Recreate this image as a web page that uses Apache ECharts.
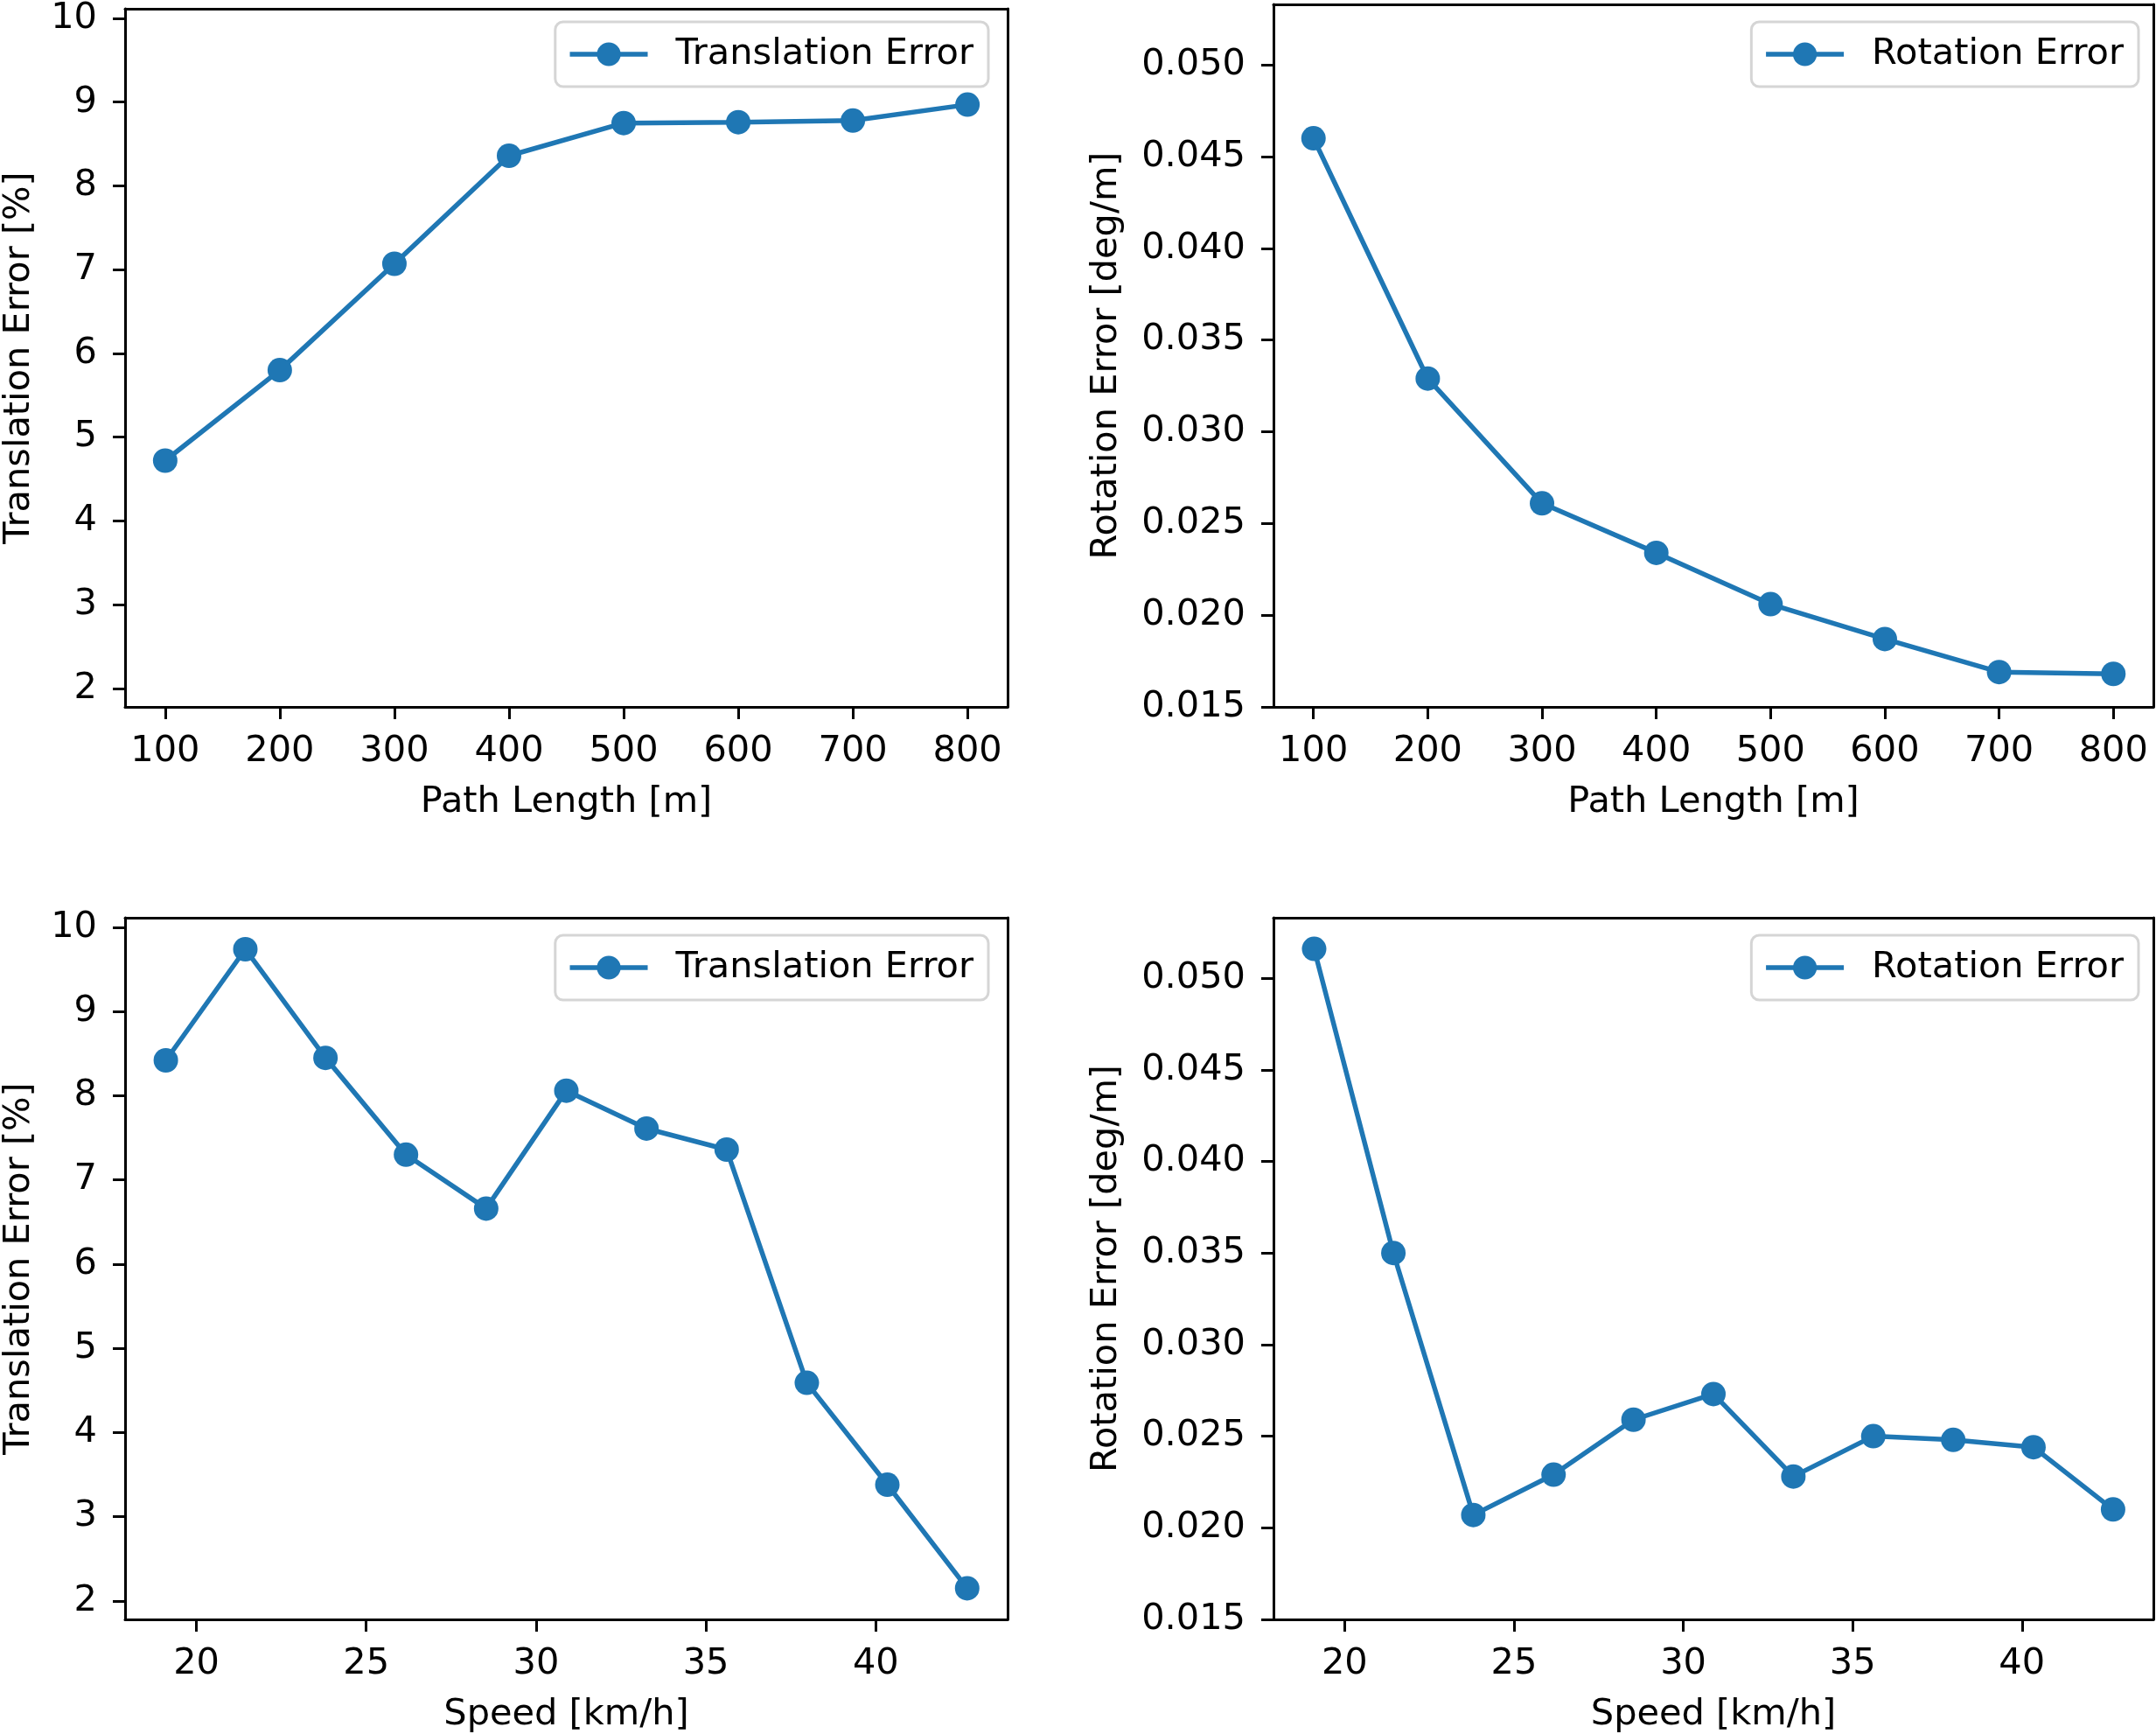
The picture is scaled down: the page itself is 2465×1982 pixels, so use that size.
<!DOCTYPE html>
<html>
<head>
<meta charset="utf-8">
<script src="https://cdn.jsdelivr.net/npm/echarts@6/dist/echarts.min.js"></script>
<style>
html,body{margin:0;padding:0;background:#fff;}
#chart{width:2465px;height:1982px;}
</style>
</head>
<body>
<div id="chart"></div>
<script>
// ---- data ----
const pathLength = [100, 200, 300, 400, 500, 600, 700, 800];
const transByPath = [4.72, 5.80, 7.07, 8.36, 8.75, 8.76, 8.78, 8.97];
const rotByPath = [0.0460, 0.0329, 0.0261, 0.0234, 0.0206, 0.0187, 0.0169, 0.0168];
const speed = [19.10, 21.44, 23.80, 26.17, 28.53, 30.89, 33.25, 35.61, 37.97, 40.34, 42.69];
const transBySpeed = [8.42, 9.74, 8.45, 7.30, 6.66, 8.06, 7.61, 7.36, 4.59, 3.38, 2.15];
const rotBySpeed = [0.0516, 0.0350, 0.0207, 0.0229, 0.0259, 0.0273, 0.0228, 0.0250, 0.0248, 0.0244, 0.0210];
const pathTicks = [100, 200, 300, 400, 500, 600, 700, 800];
const speedTicks = [20, 25, 30, 35, 40];
const transTicks = [2, 3, 4, 5, 6, 7, 8, 9, 10];
const rotTicks = [0.015, 0.020, 0.025, 0.030, 0.035, 0.040, 0.045, 0.050];

const BLUE = '#1f77b4';
const FONT = 'DejaVu Sans';
const FS = 41.5;

function pairs(xs, ys) { return xs.map((x, i) => [x, ys[i]]); }

function xAxis(gi, min, max, ticks, name) {
  return {
    type: 'value', gridIndex: gi, min: min, max: max,
    name: name, nameLocation: 'middle', nameGap: 88,
    nameTextStyle: {color: '#000', fontFamily: FONT, fontSize: FS},
    axisLine: {show: true, onZero: false, lineStyle: {color: '#000', width: 3}},
    axisTick: {show: true, inside: false, length: 14, customValues: ticks, lineStyle: {color: '#000', width: 3}},
    axisLabel: {show: true, customValues: ticks, margin: 30, color: '#000', fontFamily: FONT, fontSize: FS},
    splitLine: {show: false}
  };
}
function yAxis(gi, min, max, ticks, name, gap, fmt) {
  return {
    type: 'value', gridIndex: gi, min: min, max: max,
    name: name, nameLocation: 'middle', nameGap: gap, nameRotate: 90,
    nameTextStyle: {color: '#000', fontFamily: FONT, fontSize: FS},
    axisLine: {show: true, onZero: false, lineStyle: {color: '#000', width: 3}},
    axisTick: {show: true, inside: false, length: 14, customValues: ticks, lineStyle: {color: '#000', width: 3}},
    axisLabel: {show: true, customValues: ticks, margin: 32, color: '#000', fontFamily: FONT, fontSize: FS,
      formatter: fmt},
    splitLine: {show: false}
  };
}
// top/right spine frames via second axes
function frameX(gi, min, max) {
  return {type: 'value', gridIndex: gi, position: 'top', min: min, max: max,
    axisLine: {show: true, onZero: false, lineStyle: {color: '#000', width: 3}},
    axisTick: {show: false}, axisLabel: {show: false}, splitLine: {show: false}};
}
function frameY(gi, min, max) {
  return {type: 'value', gridIndex: gi, position: 'right', min: min, max: max,
    axisLine: {show: true, onZero: false, lineStyle: {color: '#000', width: 3}},
    axisTick: {show: false}, axisLabel: {show: false}, splitLine: {show: false}};
}
function series(name, xi, yi, data) {
  return {
    type: 'line', name: name, xAxisIndex: xi, yAxisIndex: yi, data: data,
    symbol: 'circle', symbolSize: 28, showSymbol: true,
    lineStyle: {color: BLUE, width: 5.5}, itemStyle: {color: BLUE},
    animation: false, z: 3
  };
}
function legend(name, top, right) {
  return {
    data: [name], top: top, right: right, orient: 'horizontal',
    itemWidth: 89, itemHeight: 34, itemGap: 0,
    padding: [16, 17, 16, 14],
    backgroundColor: 'rgba(255,255,255,0.8)', borderColor: '#d5d5d5', borderWidth: 3, borderRadius: 9,
    lineStyle: {width: 5.5, color: BLUE},
    textStyle: {color: '#000', fontFamily: FONT, fontSize: FS, padding: [0, 0, 0, 27]},
    selectedMode: false
  };
}

const tFmt = v => String(Math.round(v));
const rFmt = v => v.toFixed(3);

const T_MIN = 1.78, T_MAX = 10.114;
const R_MIN = 0.015, R_MAX = 0.0533;
const P_MIN = 65, P_MAX = 835;
const S_MIN = 17.90, S_MAX = 43.88;

const option = {
  backgroundColor: '#fff',
  animation: false,
  grid: [
    {left: 141, top: 5, width: 1011, height: 803},
    {left: 1456, top: 5, width: 1006, height: 803},
    {left: 141, top: 1049, width: 1011, height: 803},
    {left: 1456, top: 1049, width: 1006, height: 803}
  ],
  xAxis: [
    xAxis(0, P_MIN, P_MAX, pathTicks, 'Path Length [m]'),
    xAxis(1, P_MIN, P_MAX, pathTicks, 'Path Length [m]'),
    xAxis(2, S_MIN, S_MAX, speedTicks, 'Speed [km/h]'),
    xAxis(3, S_MIN, S_MAX, speedTicks, 'Speed [km/h]'),
    frameX(0, P_MIN, P_MAX), frameX(1, P_MIN, P_MAX), frameX(2, S_MIN, S_MAX), frameX(3, S_MIN, S_MAX)
  ],
  yAxis: [
    yAxis(0, T_MIN, T_MAX, transTicks, 'Translation Error [%]', 100, tFmt),
    yAxis(1, R_MIN, R_MAX, rotTicks, 'Rotation Error [deg/m]', 170, rFmt),
    yAxis(2, T_MIN, T_MAX, transTicks, 'Translation Error [%]', 100, tFmt),
    yAxis(3, R_MIN, R_MAX, rotTicks, 'Rotation Error [deg/m]', 170, rFmt),
    frameY(0, T_MIN, T_MAX), frameY(1, R_MIN, R_MAX), frameY(2, T_MIN, T_MAX), frameY(3, R_MIN, R_MAX)
  ],
  legend: [
    legend('Translation Error', 25, 1335),
    legend('Rotation Error', 25, 20),
    legend('Translation Error', 1069, 1335),
    legend('Rotation Error', 1069, 20)
  ],
  series: [
    series('Translation Error', 0, 0, pairs(pathLength, transByPath)),
    series('Rotation Error', 1, 1, pairs(pathLength, rotByPath)),
    series('Translation Error', 2, 2, pairs(speed, transBySpeed)),
    series('Rotation Error', 3, 3, pairs(speed, rotBySpeed))
  ]
};

const chart = echarts.init(document.getElementById('chart'), null, {renderer: 'canvas'});
chart.setOption(option);
</script>
</body>
</html>
